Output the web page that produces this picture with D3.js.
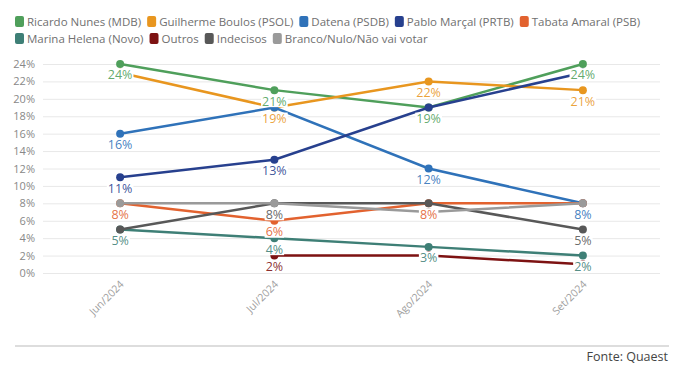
<!DOCTYPE html>
<html>
<head>
<meta charset="utf-8">
<script src="https://cdn.jsdelivr.net/npm/d3@7"></script>
<style>
    body { margin: 0; background: #fff; }
    svg { display: block; font-family: "Open Sans", sans-serif; }
</style>
</head>
<body>
<div id="chart"></div>
<script>
    "use strict";

    // chart data
    const months = ["Jun/2024", "Jul/2024", "Ago/2024", "Set/2024"];
    const seriesNames = [
        "Ricardo Nunes (MDB)", "Guilherme Boulos (PSOL)", "Datena (PSDB)", "Pablo Marçal (PRTB)",
        "Tabata Amaral (PSB)", "Marina Helena (Novo)", "Outros", "Indecisos", "Branco/Nulo/Não vai votar"
    ];
    const nunes = [24, 21, 19, 24];
    const boulos = [23, 19, 22, 21];
    const datena = [16, 19, 12, 8];
    const marcal = [11, 13, 19, 23];
    const tabata = [8, 6, 8, 8];
    const marina = [5, 4, 3, 2];
    const outros = [null, 2, 2, 1];
    const indecisos = [5, 8, 8, 5];
    const branco = [8, 8, 7, 8];
    const yTicks = [0, 2, 4, 6, 8, 10, 12, 14, 16, 18, 20, 22, 24];
    const source = "Fonte: Quaest";

    const seriesValues = [nunes, boulos, datena, marcal, tabata, marina, outros, indecisos, branco];
    const colors = ["#4f9f5b", "#e8961f", "#2f72b9", "#27408e", "#e2622f", "#3e7f76", "#7d1212", "#585858", "#9a9a9a"];

    const width = 696;
    const height = 377;
    const margin = { top: 64, right: 36, bottom: 104, left: 43 };

    let svg = d3.select("#chart").append("svg")
        .attr("width", width)
        .attr("height", height);

    // legend, two rows
    let legend = svg.append("g").attr("class", "legend");
    let lx = 15;
    let ly = 22;
    seriesNames.forEach((name, i) => {
        let item = legend.append("g");
        item.append("rect")
            .attr("x", 0).attr("y", -6)
            .attr("width", 9).attr("height", 11)
            .attr("rx", 2)
            .attr("fill", colors[i]);
        let t = item.append("text")
            .attr("x", 12).attr("y", 0)
            .attr("dy", "0.35em")
            .attr("fill", "#707070")
            .style("font-size", "11.5px")
            .text(name);
        let w = 12 + t.node().getComputedTextLength();
        item.attr("transform", "translate(" + lx + "," + ly + ")");
        lx += w + 6;
        if (i === 4) {
            lx = 15;
            ly += 17;
        }
    });

    // scales
    let xScale = d3.scalePoint()
        .domain(months)
        .range([margin.left, width - margin.right])
        .padding(0.5);
    let yScale = d3.scaleLinear()
        .domain([0, 24])
        .range([height - margin.bottom, margin.top]);

    // grid lines and y labels
    let yAxis = d3.axisLeft(yScale)
        .tickValues(yTicks)
        .tickFormat(d => d + "%")
        .tickSizeInner(-(width - margin.right - margin.left))
        .tickSizeOuter(0)
        .tickPadding(8);
    let yg = svg.append("g")
        .attr("transform", "translate(" + margin.left + ",0)")
        .call(yAxis);
    yg.select(".domain").remove();
    yg.selectAll(".tick line").attr("stroke", "#e8e8e8");
    yg.selectAll(".tick text")
        .attr("fill", "#888")
        .style("font-size", "11px")
        .style("font-family", "'Open Sans', sans-serif");

    // x labels
    let xAxis = d3.axisBottom(xScale).tickSize(0).tickPadding(0);
    let xg = svg.append("g")
        .attr("transform", "translate(0," + (height - margin.bottom) + ")")
        .call(xAxis);
    xg.select(".domain").remove();
    xg.selectAll(".tick text")
        .attr("fill", "#a0a0a0")
        .style("font-size", "10.5px")
        .style("font-family", "'Open Sans', sans-serif")
        .attr("text-anchor", "end")
        .attr("dy", 0)
        .attr("transform", "translate(4,12) rotate(-45)");

    // lines and markers
    let line = d3.line()
        .defined(d => d.v !== null)
        .x(d => xScale(d.m))
        .y(d => yScale(d.v));

    let series = seriesValues.map((vals, i) => ({
        name: seriesNames[i],
        color: colors[i],
        points: vals.map((v, j) => ({ m: months[j], v: v }))
    }));

    series.forEach(s => {
        svg.append("path")
            .datum(s.points)
            .attr("fill", "none")
            .attr("stroke", s.color)
            .attr("stroke-width", 2.5)
            .attr("d", line);
        svg.selectAll(null)
            .data(s.points.filter(p => p.v !== null))
            .enter()
            .append("circle")
            .attr("cx", d => xScale(d.m))
            .attr("cy", d => yScale(d.v))
            .attr("r", 4)
            .attr("fill", s.color);
    });

    // data labels below points, hidden when they collide with an earlier one
    let placed = [];
    let labels = svg.append("g").attr("class", "labels");
    series.forEach(s => {
        s.points.forEach(p => {
            if (p.v === null) {
                return;
            }
            let cx = xScale(p.m);
            let cy = yScale(p.v) + 11;
            let g = labels.append("g");
            let t = g.append("text")
                .attr("x", cx).attr("y", cy)
                .attr("dy", "0.35em")
                .attr("text-anchor", "middle")
                .attr("fill", s.color)
                .attr("fill-opacity", 0.9)
                .style("font-size", "12.5px")
                .text(p.v + "%");
            let bb = t.node().getBBox();
            let box = { x0: bb.x - 1, x1: bb.x + bb.width + 1, y0: cy - 6, y1: cy + 6 };
            let hit = placed.some(b => box.x0 < b.x1 && box.x1 > b.x0 && box.y0 < b.y1 && box.y1 > b.y0);
            if (hit) {
                g.remove();
                return;
            }
            placed.push(box);
            g.insert("rect", "text")
                .attr("x", box.x0).attr("y", box.y0)
                .attr("width", box.x1 - box.x0).attr("height", box.y1 - box.y0)
                .attr("fill", "#fff");
        });
    });

    // footer
    svg.append("line")
        .attr("x1", 15).attr("x2", 669)
        .attr("y1", 346).attr("y2", 346)
        .attr("stroke", "#ddd")
        .attr("stroke-width", 2);
    svg.append("text")
        .attr("x", 668).attr("y", 357)
        .attr("dy", "0.35em")
        .attr("text-anchor", "end")
        .attr("fill", "#444")
        .style("font-size", "12.5px")
        .text(source);
</script>
</body>
</html>
